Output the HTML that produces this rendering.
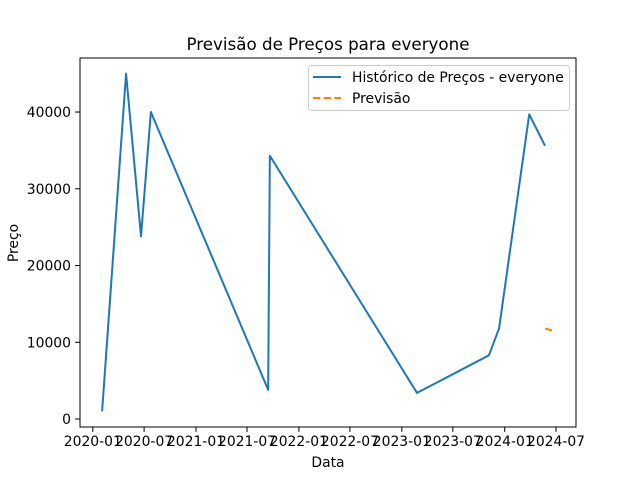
<!DOCTYPE html>
<html><head><meta charset="utf-8"><style>
body{margin:0;background:#fff;font-family:"Liberation Sans","DejaVu Sans",sans-serif}
svg text{font-family:"DejaVu Sans","Liberation Sans",sans-serif;fill:#000}
</style></head><body>
<svg id="c" width="640" height="480"></svg>
<script>
const histDates=["2020-02-03","2020-04-28","2020-06-20","2020-07-25","2021-09-14","2021-09-20","2023-02-24","2023-11-06","2023-12-12","2024-03-28","2024-05-23"];
const histValues=[1000,45000,23800,40000,3800,34300,3400,8300,11800,39700,35600];
const fcDates=["2024-05-23","2024-06-21"];
const fcValues=[11800,11500];
const xTickLabels=["2020-01","2020-07","2021-01","2021-07","2022-01","2022-07","2023-01","2023-07","2024-01","2024-07"];
const yTicks=[0,10000,20000,30000,40000];

const L=80,R=576,T=58,B=427;
const t0=Date.UTC(2020,0,1),DAY=86400000;
const xMin=-45.4,xMax=1713.9,yMin=-1040,yMax=47040;
function days(s){const p=s.split('-');return (Date.UTC(+p[0],+p[1]-1,+(p[2]||1))-t0)/DAY;}
function sx(s){return L+(days(s)-xMin)/(xMax-xMin)*(R-L);}
function sy(v){return B-(v-yMin)/(yMax-yMin)*(B-T);}
const svg=document.getElementById('c');const NS='http://www.w3.org/2000/svg';
function mk(tag,a,txt){const e=document.createElementNS(NS,tag);for(const k in a)e.setAttribute(k,a[k]);if(txt!==undefined)e.textContent=txt;svg.appendChild(e);return e;}

const frame=mk('rect',{x:L,y:T,width:R-L,height:B-T,fill:'none',stroke:'#000','stroke-width':1});



xTickLabels.forEach(l=>{const x=sx(l);
 const t=mk('line',{x1:x,x2:x,y1:B,y2:B+4.9,stroke:'#000'});
 
 
 const tx=mk('text',{x:x,y:B+19,'font-size':13.9,'text-anchor':'middle'},l);
 
 
});
yTicks.forEach(v=>{const y=sy(v);
 const t=mk('line',{x1:L-4.9,x2:L,y1:y,y2:y,stroke:'#000'});
 
 
 const tx=mk('text',{x:L-9,y:y+5,'font-size':13.9,'text-anchor':'end'},String(v));
 
 
});

const hp=mk('polyline',{points:histDates.map((d,i)=>sx(d)+','+sy(histValues[i])).join(' '),fill:'none',stroke:'#1f77b4','stroke-width':2,'stroke-linejoin':'round'});


const fp=mk('polyline',{points:fcDates.map((d,i)=>sx(d)+','+sy(fcValues[i])).join(' '),fill:'none',stroke:'#ff7f0e','stroke-width':2,'stroke-dasharray':'7.4,3.2'});



const ti=mk('text',{x:(L+R)/2,y:50,'font-size':16.7,'text-anchor':'middle'},'Previsão de Preços para everyone');


const xl=mk('text',{x:(L+R)/2,y:467,'font-size':13.9,'text-anchor':'middle'},'Data');


const yl=mk('text',{x:0,y:0,'font-size':13.9,'text-anchor':'middle',transform:'translate(18,243) rotate(-90)'},'Preço');



const lg=mk('rect',{x:308.5,y:65.5,width:261,height:45,rx:3,fill:'#fff','fill-opacity':0.8,stroke:'#ccc'});


const l1=mk('line',{x1:313,x2:341,y1:77,y2:77,stroke:'#1f77b4','stroke-width':2});


const t1=mk('text',{x:352,y:82,'font-size':13.9},'Histórico de Preços - everyone');


const l2=mk('line',{x1:313,x2:341,y1:98,y2:98,stroke:'#ff7f0e','stroke-width':2,'stroke-dasharray':'7.4,3.2'});


const t2=mk('text',{x:352,y:103,'font-size':13.9},'Previsão');


</script>
</body></html>
